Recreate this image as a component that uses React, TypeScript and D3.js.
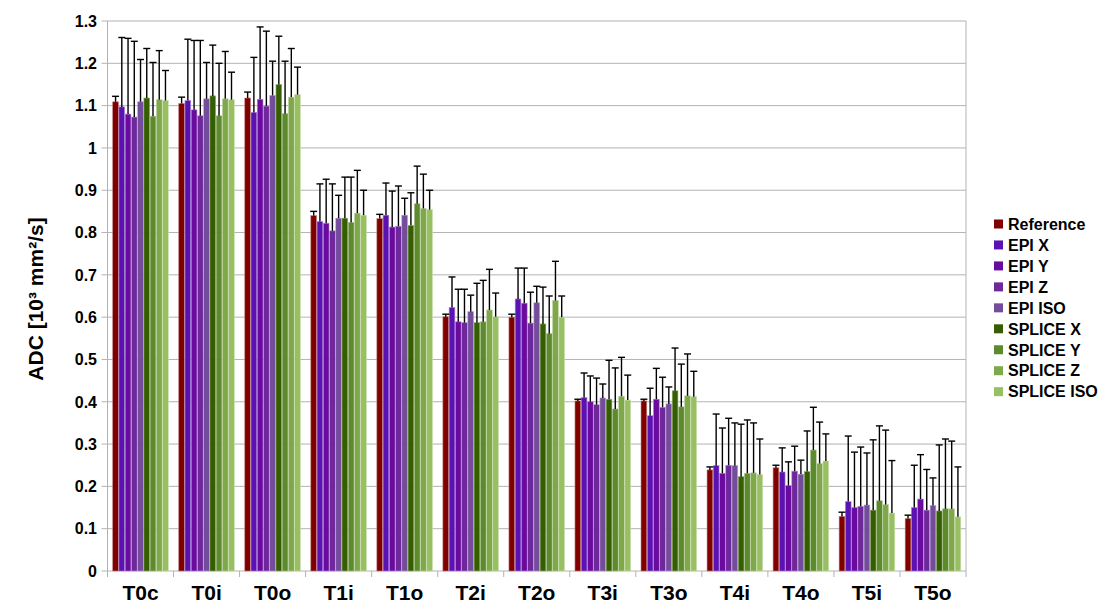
import React from "react";
import * as d3 from "d3";

const categories = ["T0c", "T0i", "T0o", "T1i", "T1o", "T2i", "T2o", "T3i", "T3o", "T4i", "T4o", "T5i", "T5o"];
const seriesNames = ["Reference", "EPI X", "EPI Y", "EPI Z", "EPI ISO", "SPLICE X", "SPLICE Y", "SPLICE Z", "SPLICE ISO"];
const seriesColors = ["#800000", "#5c12b2", "#6a0a9e", "#6f289c", "#744c9c", "#355e00", "#5c8a2c", "#7fa84a", "#98c062"];

const refValues = [1.109, 1.105, 1.118, 0.840, 0.833, 0.601, 0.600, 0.402, 0.402, 0.239, 0.244, 0.129, 0.124];
const refSd = [0.013, 0.015, 0.014, 0.010, 0.010, 0.006, 0.007, 0.004, 0.004, 0.007, 0.006, 0.010, 0.008];
const epiXValues = [1.097, 1.112, 1.084, 0.826, 0.841, 0.623, 0.643, 0.410, 0.367, 0.249, 0.234, 0.164, 0.150];
const epiXSd = [0.164, 0.145, 0.130, 0.089, 0.076, 0.072, 0.073, 0.058, 0.065, 0.122, 0.057, 0.155, 0.100];
const epiYValues = [1.080, 1.090, 1.115, 0.822, 0.813, 0.589, 0.633, 0.400, 0.406, 0.231, 0.202, 0.150, 0.170];
const epiYSd = [0.179, 0.164, 0.171, 0.104, 0.085, 0.077, 0.083, 0.061, 0.073, 0.107, 0.056, 0.131, 0.105];
const epiZValues = [1.073, 1.076, 1.099, 0.804, 0.815, 0.587, 0.586, 0.393, 0.387, 0.250, 0.236, 0.153, 0.144];
const epiZSd = [0.179, 0.178, 0.177, 0.111, 0.095, 0.079, 0.073, 0.063, 0.071, 0.111, 0.059, 0.140, 0.096];
const epiIsoValues = [1.109, 1.116, 1.124, 0.834, 0.841, 0.613, 0.634, 0.409, 0.395, 0.249, 0.229, 0.156, 0.155];
const epiIsoSd = [0.100, 0.086, 0.081, 0.054, 0.040, 0.039, 0.039, 0.033, 0.040, 0.101, 0.033, 0.123, 0.065];
const spliceXValues = [1.118, 1.123, 1.150, 0.834, 0.817, 0.587, 0.584, 0.406, 0.426, 0.223, 0.235, 0.144, 0.142];
const spliceXSd = [0.117, 0.120, 0.114, 0.097, 0.077, 0.093, 0.087, 0.092, 0.101, 0.124, 0.096, 0.166, 0.156];
const spliceYValues = [1.075, 1.076, 1.081, 0.824, 0.868, 0.589, 0.561, 0.383, 0.388, 0.231, 0.286, 0.166, 0.147];
const spliceYSd = [0.127, 0.124, 0.124, 0.107, 0.089, 0.098, 0.089, 0.097, 0.101, 0.126, 0.101, 0.177, 0.165];
const spliceZValues = [1.114, 1.116, 1.120, 0.846, 0.857, 0.617, 0.639, 0.413, 0.414, 0.232, 0.254, 0.157, 0.147];
const spliceZSd = [0.116, 0.112, 0.115, 0.101, 0.081, 0.096, 0.093, 0.092, 0.099, 0.118, 0.098, 0.176, 0.160];
const spliceIsoValues = [1.112, 1.114, 1.126, 0.841, 0.854, 0.601, 0.600, 0.404, 0.412, 0.228, 0.260, 0.137, 0.128];
const spliceIsoSd = [0.071, 0.065, 0.065, 0.059, 0.046, 0.056, 0.050, 0.059, 0.060, 0.084, 0.064, 0.124, 0.118];

const yTicks = [0, 0.1, 0.2, 0.3, 0.4, 0.5, 0.6, 0.7, 0.8, 0.9, 1, 1.1, 1.2, 1.3];
const yTitle = "ADC [10³ mm²/s]";

const allValues = [refValues, epiXValues, epiYValues, epiZValues, epiIsoValues, spliceXValues, spliceYValues, spliceZValues, spliceIsoValues];
const allSd = [refSd, epiXSd, epiYSd, epiZSd, epiIsoSd, spliceXSd, spliceYSd, spliceZSd, spliceIsoSd];

const W = 1111;
const H = 616;
const left = 107.5;
const right = 966;
const top = 21;
const bottom = 571;
const FONT = "'Liberation Sans', Arial, sans-serif";

export default function App() {
  const x = d3.scaleBand<string>().domain(categories).range([left, right]).paddingInner(0.15).paddingOuter(0.075);
  const xi = d3.scaleBand<string>().domain(seriesNames).range([0, x.bandwidth()]);
  const y = d3.scaleLinear().domain([0, 1.3]).range([bottom, top]);
  const step = x.step();
  const capW = 7;

  return (
    <svg width={W} height={H} style={{ position: "fixed", left: 0, top: 0, background: "#fff" }} fontFamily={FONT}>
      {yTicks.map((t) => (
        <line key={"g" + t} x1={left - 6} x2={right} y1={y(t)} y2={y(t)} stroke="#b3b3b3" strokeWidth={1} />
      ))}
      <line x1={left} x2={left} y1={top} y2={bottom} stroke="#b3b3b3" />
      <line x1={right} x2={right} y1={top} y2={bottom + 6} stroke="#b3b3b3" />
      {categories.map((c, i) => (
        <line key={"xt" + c} x1={left + i * step} x2={left + i * step} y1={bottom} y2={bottom + 6} stroke="#b3b3b3" />
      ))}
      {yTicks.map((t) => (
        <text key={"yl" + t} x={97} y={y(t)} dy="0.36em" textAnchor="end" fontSize={16} fontWeight="bold" fill="#000">
          {String(t)}
        </text>
      ))}
      {categories.map((c, ci) => (
        <g key={"grp" + c} transform={`translate(${x(c)},0)`}>
          {seriesNames.map((s, si) => {
            const v = allValues[si][ci];
            const light = d3.interpolateRgb(seriesColors[si], "#ffffff")(0.5);
            return (
              <rect
                key={s}
                x={xi(s)! + 0.25}
                y={y(v)}
                width={xi.bandwidth() - 0.5}
                height={y(0) - y(v)}
                fill={seriesColors[si]}
                stroke={light}
                strokeWidth={0.6}
              />
            );
          })}
          {seriesNames.map((s, si) => {
            const v = allValues[si][ci];
            const e = allSd[si][ci];
            const cx = xi(s)! + xi.bandwidth() / 2;
            return (
              <g key={"e" + s} stroke="#000" strokeWidth={1.4}>
                <line x1={cx} x2={cx} y1={y(v)} y2={y(v + e)} />
                <line x1={cx - capW / 2} x2={cx + capW / 2} y1={y(v + e)} y2={y(v + e)} />
              </g>
            );
          })}
        </g>
      ))}
      {categories.map((c) => (
        <text key={"xl" + c} x={x(c)! + x.bandwidth() / 2} y={600} textAnchor="middle" fontSize={21} fontWeight="bold" fill="#000">
          {c}
        </text>
      ))}
      <text transform={`translate(43,${(top + bottom) / 2 + 3}) rotate(-90)`} textAnchor="middle" fontSize={21} fontWeight="bold" fill="#000">
        {yTitle}
      </text>
      {seriesNames.map((s, i) => (
        <g key={"lg" + s} transform={`translate(994,${224 + i * 20.96})`}>
          <rect x={0} y={-4.5} width={9} height={9} fill={seriesColors[i]} />
          <text x={14} y={0} dy="0.36em" fontSize={16} fontWeight="bold" fill="#000">
            {s}
          </text>
        </g>
      ))}
    </svg>
  );
}
